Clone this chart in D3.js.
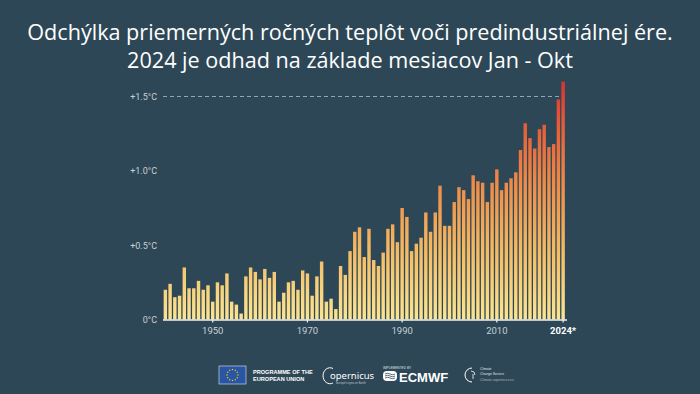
<!DOCTYPE html>
<html>
<head>
<meta charset="utf-8">
<script src="https://cdn.jsdelivr.net/npm/d3@7"></script>
<style>
  html, body { margin: 0; padding: 0; background: #2e4756; }
  svg { display: block; }
</style>
</head>
<body>
<svg id="chart" width="700" height="394"></svg>
<script>
// anomaly vs pre-industrial, degC
var years = d3.range(1940, 2025);
var anomalies = [
  0.20, 0.24, 0.15, 0.16, 0.35, 0.21, 0.21, 0.26, 0.20, 0.23,
  0.12, 0.25, 0.23, 0.31, 0.12, 0.10, 0.04, 0.29, 0.35, 0.32,
  0.27, 0.34, 0.28, 0.32, 0.12, 0.18, 0.25, 0.26, 0.20, 0.33,
  0.31, 0.16, 0.29, 0.39, 0.12, 0.14, 0.07, 0.36, 0.30, 0.46,
  0.59, 0.62, 0.42, 0.61, 0.40, 0.36, 0.45, 0.61, 0.64, 0.52,
  0.75, 0.69, 0.46, 0.51, 0.55, 0.72, 0.59, 0.72, 0.90, 0.63,
  0.63, 0.79, 0.89, 0.87, 0.81, 0.97, 0.93, 0.92, 0.79, 0.92,
  1.01, 0.87, 0.92, 0.95, 0.99, 1.14, 1.32, 1.22, 1.15, 1.28,
  1.31, 1.16, 1.18, 1.48, 1.60
];
var yTicks = [0, 0.5, 1.0, 1.5];
var yTickLabels = ["0°C", "+0.5°C", "+1.0°C", "+1.5°C"];
var xTicks = [1950, 1970, 1990, 2010, 2024];
var titleLines = [
  "Odchýlka priemerných ročných teplôt voči predindustriálnej ére.",
  "2024 je odhad na základe mesiacov Jan - Okt"
];

var svg = d3.select("#chart");
var bg = "#2e4756";

svg.append("rect").attr("width", 700).attr("height", 394).attr("fill", bg);

// title
var title = svg.append("g");
titleLines.forEach(function(t, i) {
  title.append("text")
    .attr("x", 350)
    .attr("y", 40 + i * 28)
    .attr("text-anchor", "middle")
    .attr("fill", "#ffffff")
    .style("font-family", "'Open Sans', sans-serif")
    .style("font-size", "21.6px")
    .style("font-weight", 500)
    .text(t);
});

var x = d3.scaleBand()
  .domain(years)
  .range([163, 565.5])
  .paddingInner(0.28)
  .paddingOuter(0.14);

var y = d3.scaleLinear()
  .domain([0, 1.5])
  .range([319.5, 96.5]);

// one gradient over the whole plot height, so tall bars reach the red
var defs = svg.append("defs");
var grad = defs.append("linearGradient")
  .attr("id", "heat")
  .attr("gradientUnits", "userSpaceOnUse")
  .attr("x1", 0).attr("x2", 0)
  .attr("y1", y(0)).attr("y2", y(1.62));
[[0, "#fbe592"], [0.3, "#f3b862"], [0.6, "#ec8545"], [0.82, "#e55a38"], [1, "#dd2f2f"]]
  .forEach(function(s) {
    grad.append("stop").attr("offset", s[0]).attr("stop-color", s[1]);
  });

// 1.5 reference line
svg.append("line")
  .attr("x1", 163).attr("x2", x(2023) + x.bandwidth())
  .attr("y1", y(1.5)).attr("y2", y(1.5))
  .attr("stroke", "#93a6b0")
  .attr("stroke-width", 1)
  .attr("stroke-dasharray", "4,3");

svg.append("g").selectAll("rect")
  .data(years)
  .enter().append("rect")
  .attr("x", function(d) { return x(d); })
  .attr("width", x.bandwidth())
  .attr("y", function(d, i) { return y(anomalies[i]); })
  .attr("height", function(d, i) { return y(0) - y(anomalies[i]); })
  .attr("fill", "url(#heat)");

// y axis labels
var yAxis = d3.axisLeft(y)
  .tickValues(yTicks)
  .tickSize(0)
  .tickPadding(0)
  .tickFormat(function(d, i) { return yTickLabels[i]; });
var ya = svg.append("g").attr("transform", "translate(157,0)").call(yAxis);
ya.select(".domain").remove();
ya.selectAll("text")
  .attr("fill", "#c6d0d6")
  .attr("dy", "0.35em")
  .style("font-family", "'Roboto', sans-serif")
  .style("font-size", "9px");

// x axis
var xAxis = d3.axisBottom(x)
  .tickValues(xTicks)
  .tickSize(3)
  .tickPadding(5)
  .tickFormat(function(d) { return d === 2024 ? "2024*" : d; });
var xa = svg.append("g").attr("transform", "translate(0," + y(0) + ")").call(xAxis);
xa.select(".domain")
  .attr("d", "M163,0.5H567")
  .attr("stroke", "#f3f3f3")
  .attr("stroke-width", 1.5);
xa.selectAll(".tick line").attr("stroke", "#f3f3f3").attr("stroke-width", 1.2);
xa.selectAll("text")
  .attr("fill", "#c6d0d6")
  .style("font-family", "'Roboto', sans-serif")
  .style("font-size", "9.5px")
  .filter(function(d) { return d === 2024; })
  .attr("fill", "#ffffff")
  .style("font-weight", 700);

// footer logos, rough
var logos = svg.append("g");

// EU flag
logos.append("rect")
  .attr("x", 219).attr("y", 366).attr("width", 27).attr("height", 18)
  .attr("fill", "#2a55a4").attr("stroke", "#dfe6ee").attr("stroke-width", 0.6);
d3.range(12).forEach(function(k) {
  var a = k / 12 * 2 * Math.PI;
  logos.append("circle")
    .attr("cx", 232.5 + 5.5 * Math.cos(a))
    .attr("cy", 375 + 5.5 * Math.sin(a))
    .attr("r", 0.7)
    .attr("fill", "#f4d400");
});
logos.append("text").attr("x", 253).attr("y", 373.5).text("PROGRAMME OF THE");
logos.append("text").attr("x", 253).attr("y", 380.5).text("EUROPEAN UNION");
logos.selectAll("text")
  .attr("fill", "#ffffff")
  .style("font-family", "'Liberation Sans', sans-serif")
  .style("font-size", "5.6px")
  .style("font-weight", 700);

// Copernicus
logos.append("path")
  .attr("d", "M333,368.5 A7,8 0 1 0 333,383")
  .attr("fill", "none").attr("stroke", "#ffffff").attr("stroke-width", 1);
logos.append("text")
  .attr("x", 330).attr("y", 379)
  .attr("fill", "#ffffff")
  .style("font-family", "'Noto Sans', sans-serif")
  .style("font-size", "9.5px")
  .text("opernicus");
logos.append("text")
  .attr("x", 336).attr("y", 384)
  .attr("fill", "#c6d0d6")
  .style("font-family", "'Noto Sans', sans-serif")
  .style("font-size", "2.8px")
  .text("Europe's eyes on Earth");

// ECMWF
logos.append("text")
  .attr("x", 383).attr("y", 368.5)
  .attr("fill", "#dfe5ea")
  .style("font-family", "'Liberation Sans', sans-serif")
  .style("font-size", "3.2px")
  .text("IMPLEMENTED BY");
logos.append("rect")
  .attr("x", 383).attr("y", 371).attr("width", 14).attr("height", 10).attr("rx", 4)
  .attr("fill", "#ffffff");
[374, 376, 378].forEach(function(yy) {
  logos.append("path")
    .attr("d", "M385," + yy + " q2.5,-1.5 5,0 t5,0")
    .attr("fill", "none").attr("stroke", bg).attr("stroke-width", 0.8);
});
logos.append("text")
  .attr("x", 399).attr("y", 381.5)
  .attr("fill", "#ffffff")
  .style("font-family", "'Liberation Sans', sans-serif")
  .style("font-size", "13px")
  .style("font-weight", 700)
  .text("ECMWF");

// Climate Change Service
logos.append("path")
  .attr("d", "M472,368 A7,7 0 1 0 472,382")
  .attr("fill", "none").attr("stroke", "#ffffff").attr("stroke-width", 1);
logos.append("path")
  .attr("d", "M471,371 A4,4 0 0 1 475,375 M473,374 V379")
  .attr("fill", "none").attr("stroke", "#ffffff").attr("stroke-width", 0.8);
logos.append("text").attr("x", 480).attr("y", 370).text("Climate");
logos.append("text").attr("x", 480).attr("y", 374.5).text("Change Service");
logos.append("text").attr("x", 480).attr("y", 381).attr("fill", "#aab6bd").text("Climate.copernicus.eu");
logos.selectAll("text").filter(function() { return this.getAttribute("x") === "480"; })
  .attr("fill", function() { return this.getAttribute("fill") || "#dfe5ea"; })
  .style("font-family", "'Liberation Sans', sans-serif")
  .style("font-size", "3.4px");
</script>
</body>
</html>
